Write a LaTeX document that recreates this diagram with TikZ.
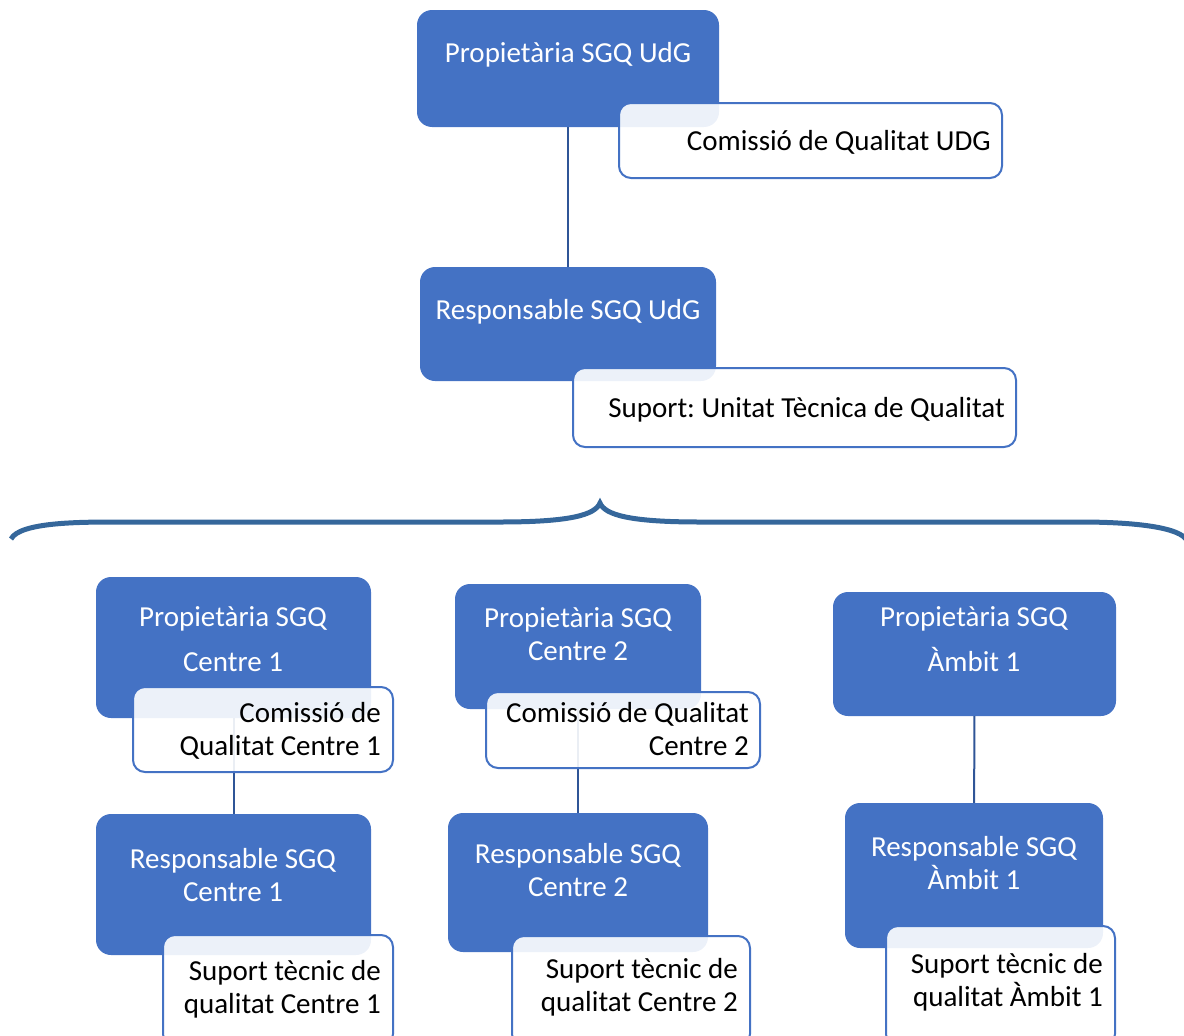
\documentclass[tikz,border=0pt]{standalone}
\usepackage{fontspec}
\setmainfont{Carlito}
\frenchspacing
\definecolor{boxblue}{HTML}{4472C4}
\definecolor{linkblue}{HTML}{2F5597}
\definecolor{braceblue}{HTML}{35679B}
\begin{document}
\begin{tikzpicture}
  [x=1pt,y=-1pt,
   bluebox/.style={rectangle,rounded corners=15pt,fill=boxblue,draw=none,inner sep=0pt},
   whitebox/.style={rectangle,rounded corners=12pt,draw=boxblue,line width=2pt,fill=white,fill opacity=.9,inner sep=0pt},
   bluetxt/.style={text=white,align=center,anchor=base,inner sep=0pt,font=\fontsize{29}{32.5}\selectfont},
   whitetxt/.style={text=black,align=right,anchor=base east,inner sep=0pt,font=\fontsize{29}{32.5}\selectfont},
   link/.style={draw=linkblue,line width=2pt}]
  \useasboundingbox (0,0) rectangle (1184,1036);

  % blue boxes
  \node[bluebox,minimum width=302pt,minimum height=117pt] (p0) at (568,68.5) {};
  \node[bluebox,minimum width=296pt,minimum height=114pt] (r0) at (568,324) {};
  \node[bluebox,minimum width=275pt,minimum height=141pt] (p1) at (233.5,647.5) {};
  \node[bluebox,minimum width=275pt,minimum height=141pt] (r1) at (233.5,884.5) {};
  \node[bluebox,minimum width=246pt,minimum height=125pt] (p2) at (578,646.5) {};
  \node[bluebox,minimum width=260pt,minimum height=139pt] (r2) at (578,882.5) {};
  \node[bluebox,minimum width=283pt,minimum height=124pt] (p3) at (974.5,654) {};
  \node[bluebox,minimum width=258pt,minimum height=145pt] (r3) at (974,875.5) {};

  \foreach \from/\to in {p0/r0,p1/r1,p2/r2,p3/r3}
    \draw[link] (\from) -- (\to);

  % white boxes
  \node[whitebox,minimum width=383pt,minimum height=75pt] (c0) at (810.5,140.5) {};
  \node[whitebox,minimum width=443pt,minimum height=79pt] (s0) at (794.5,407.5) {};
  \node[whitebox,minimum width=260pt,minimum height=85pt] (c1) at (263,729.5) {};
  \node[whitebox,minimum width=230pt,minimum height=111pt] (s1) at (278,990.5) {};
  \node[whitebox,minimum width=274pt,minimum height=76pt] (c2) at (623,730) {};
  \node[whitebox,minimum width=238pt,minimum height=110pt] (s2) at (631,991) {};
  \node[whitebox,minimum width=229pt,minimum height=120pt] (s3) at (1000.5,986) {};

  % texts (base = last line)
  \node[bluetxt] (p0t) at (568,62) {Propietària SGQ UdG};
  \node[bluetxt] (r0t) at (568,319) {Responsable SGQ UdG};
  \node[bluetxt] (p1t) at (233,671) {Propietària SGQ\\[12pt]Centre 1};
  \node[bluetxt] (r1t) at (233,901) {Responsable SGQ\\Centre 1};
  \node[bluetxt] (p2t) at (578,660) {Propietària SGQ\\Centre 2};
  \node[bluetxt] (r2t) at (578,896) {Responsable SGQ\\Centre 2};
  \node[bluetxt] (p3t) at (974,671) {Propietària SGQ\\[12pt]Àmbit 1};
  \node[bluetxt] (r3t) at (974,889) {Responsable SGQ\\Àmbit 1};

  \node[whitetxt] (c0t) at (991,150) {Comissió de Qualitat UDG};
  \node[whitetxt] (s0t) at (1005,417) {Suport: Unitat Tècnica de Qualitat};
  \node[whitetxt] (c1t) at (381,755) {Comissió de\\Qualitat Centre 1};
  \node[whitetxt] (s1t) at (381,1013) {Suport tècnic de\\qualitat Centre 1};
  \node[whitetxt] (c2t) at (749,755) {Comissió de Qualitat\\Centre 2};
  \node[whitetxt] (s2t) at (738,1011) {Suport tècnic de\\qualitat Centre 2};
  \node[whitetxt] (s3t) at (1103,1006) {Suport tècnic de\\qualitat Àmbit 1};

  % brace
  \draw[braceblue,line width=5pt]
    (11,539) .. controls (20,522) and (80,522) .. (120,522) -- (500,522)
    .. controls (570,522) and (595,515) .. (600,503)
    .. controls (605,515) and (630,522) .. (700,522) -- (1080,522)
    .. controls (1120,522) and (1175,525) .. (1186,539);
\end{tikzpicture}
\end{document}
